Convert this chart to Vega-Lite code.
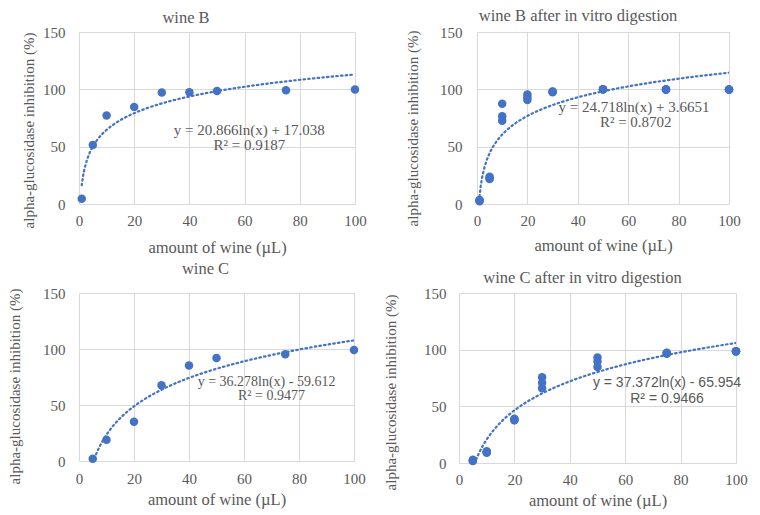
{
  "$schema": "https://vega.github.io/schema/vega-lite/v6.json",
  "background": "white",
  "padding": {"left": 7, "top": 7, "right": 0, "bottom": 0},
  "datasets": {
    "points": [
      {"panel": "B", "x": 1, "y": 4.6}, {"panel": "B", "x": 5, "y": 51.4}, {"panel": "B", "x": 10, "y": 77.2},
      {"panel": "B", "x": 20, "y": 84.7}, {"panel": "B", "x": 30, "y": 97.2}, {"panel": "B", "x": 40, "y": 97.5},
      {"panel": "B", "x": 50, "y": 98.6}, {"panel": "B", "x": 75, "y": 99.2}, {"panel": "B", "x": 100, "y": 99.8},
      {"panel": "BD", "x": 1, "y": 2.5}, {"panel": "BD", "x": 1, "y": 3.5}, {"panel": "BD", "x": 1, "y": 3},
      {"panel": "BD", "x": 5, "y": 23.8}, {"panel": "BD", "x": 5, "y": 21.7}, {"panel": "BD", "x": 5, "y": 22.5},
      {"panel": "BD", "x": 10, "y": 87.5}, {"panel": "BD", "x": 10, "y": 76.5}, {"panel": "BD", "x": 10, "y": 72.5},
      {"panel": "BD", "x": 20, "y": 95.5}, {"panel": "BD", "x": 20, "y": 93}, {"panel": "BD", "x": 20, "y": 90.8},
      {"panel": "BD", "x": 30, "y": 98}, {"panel": "BD", "x": 30, "y": 97.5}, {"panel": "BD", "x": 30, "y": 98.2},
      {"panel": "BD", "x": 50, "y": 100}, {"panel": "BD", "x": 50, "y": 99.8}, {"panel": "BD", "x": 50, "y": 100},
      {"panel": "BD", "x": 75, "y": 99.8}, {"panel": "BD", "x": 75, "y": 100}, {"panel": "BD", "x": 75, "y": 99.7},
      {"panel": "BD", "x": 100, "y": 99.8}, {"panel": "BD", "x": 100, "y": 99.9}, {"panel": "BD", "x": 100, "y": 99.7},
      {"panel": "C", "x": 5, "y": 2}, {"panel": "C", "x": 10, "y": 18.9}, {"panel": "C", "x": 20, "y": 35.1},
      {"panel": "C", "x": 30, "y": 67.6}, {"panel": "C", "x": 40, "y": 85.3}, {"panel": "C", "x": 50, "y": 92},
      {"panel": "C", "x": 75, "y": 95.4}, {"panel": "C", "x": 100, "y": 99.2},
      {"panel": "CD", "x": 5, "y": 2}, {"panel": "CD", "x": 5, "y": 2.8}, {"panel": "CD", "x": 5, "y": 1.8},
      {"panel": "CD", "x": 10, "y": 9.1}, {"panel": "CD", "x": 10, "y": 10.4}, {"panel": "CD", "x": 10, "y": 9.5},
      {"panel": "CD", "x": 20, "y": 37.8}, {"panel": "CD", "x": 20, "y": 39}, {"panel": "CD", "x": 20, "y": 38},
      {"panel": "CD", "x": 30, "y": 75.6}, {"panel": "CD", "x": 30, "y": 70.7}, {"panel": "CD", "x": 30, "y": 65.9},
      {"panel": "CD", "x": 50, "y": 93}, {"panel": "CD", "x": 50, "y": 89.6}, {"panel": "CD", "x": 50, "y": 84.8},
      {"panel": "CD", "x": 75, "y": 97}, {"panel": "CD", "x": 75, "y": 96.5}, {"panel": "CD", "x": 75, "y": 97.2},
      {"panel": "CD", "x": 100, "y": 98.5}, {"panel": "CD", "x": 100, "y": 98.3}, {"panel": "CD", "x": 100, "y": 98.6}
    ],
    "labels": [
      {"panel": "B", "x": 61.7, "y": 64.4, "text": "y = 20.866ln(x)  + 17.038"},
      {"panel": "B", "x": 61.7, "y": 51.4, "text": "R² = 0.9187"},
      {"panel": "BD", "x": 62.3, "y": 85, "text": "y = 24.718ln(x)  + 3.6651"},
      {"panel": "BD", "x": 63, "y": 71.9, "text": "R² = 0.8702"},
      {"panel": "C", "x": 68.2, "y": 70.6, "text": "y = 36.278ln(x)  - 59.612"},
      {"panel": "C", "x": 70, "y": 57.8, "text": "R² = 0.9477"},
      {"panel": "CD", "x": 75.1, "y": 70.4, "text": "y = 37.372ln(x) - 65.954"},
      {"panel": "CD", "x": 75.1, "y": 56.7, "text": "R² = 0.9466"}
    ]
  },
  "vconcat": [
    {
      "hconcat": [
        {
          "width": 276, "height": 172,
          "title": {"text": "wine B", "offset": -1, "dx": -31},
          "layer": [
            {
              "data": {"name": "points"},
              "transform": [{"filter": "datum.panel == 'B'"}],
              "mark": {"type": "circle", "size": 72, "color": "#4472c4", "opacity": 1},
              "encoding": {
                "x": {"field": "x", "type": "quantitative", "scale": {"domain": [0, 100], "nice": false},
                      "title": "amount of wine (µL)",
                      "axis": {"values": [0, 20, 40, 60, 80, 100], "labelPadding": 9, "titlePadding": 11}},
                "y": {"field": "y", "type": "quantitative", "scale": {"domain": [0, 150], "nice": false},
                      "title": "alpha-glucosidase inhibition (%)",
                      "axis": {"values": [0, 50, 100, 150], "labelPadding": 14, "titlePadding": 6, "titleY": 98}}
              }
            },
            {
              "data": {"name": "points"},
              "transform": [{"filter": "datum.panel == 'B'"}, {"regression": "y", "on": "x", "method": "log", "extent": [1, 100]}],
              "mark": {"type": "line", "color": "#4472c4", "strokeWidth": 2.2, "strokeDash": [1.5, 3.2], "strokeCap": "round", "clip": true},
              "encoding": {"x": {"field": "x", "type": "quantitative"}, "y": {"field": "y", "type": "quantitative"}}
            },
            {
              "data": {"name": "labels"},
              "transform": [{"filter": "datum.panel == 'B'"}],
              "mark": {"type": "text", "fontSize": 15, "color": "#595959", "baseline": "middle", "align": "center"},
              "encoding": {"x": {"field": "x", "type": "quantitative"}, "y": {"field": "y", "type": "quantitative"}, "text": {"field": "text"}}
            }
          ]
        },
        {
          "width": 252, "height": 172,
          "title": {"text": "wine B after in vitro digestion", "offset": 1, "dx": -25},
          "layer": [
            {
              "data": {"name": "points"},
              "transform": [{"filter": "datum.panel == 'BD'"}],
              "mark": {"type": "circle", "size": 72, "color": "#4472c4", "opacity": 1},
              "encoding": {
                "x": {"field": "x", "type": "quantitative", "scale": {"domain": [0, 100], "nice": false},
                      "title": "amount of wine (µL)",
                      "axis": {"values": [0, 20, 40, 60, 80, 100], "labelPadding": 9, "titlePadding": 9}},
                "y": {"field": "y", "type": "quantitative", "scale": {"domain": [0, 150], "nice": false},
                      "title": "alpha-glucosidase inhibition (%)",
                      "axis": {"values": [0, 50, 100, 150], "labelPadding": 15, "titlePadding": 19, "titleY": 96}}
              }
            },
            {
              "data": {"name": "points"},
              "transform": [{"filter": "datum.panel == 'BD'"}, {"regression": "y", "on": "x", "method": "log", "extent": [1, 100]}],
              "mark": {"type": "line", "color": "#4472c4", "strokeWidth": 2.2, "strokeDash": [1.5, 3.2], "strokeCap": "round", "clip": true},
              "encoding": {"x": {"field": "x", "type": "quantitative"}, "y": {"field": "y", "type": "quantitative"}}
            },
            {
              "data": {"name": "labels"},
              "transform": [{"filter": "datum.panel == 'BD'"}],
              "mark": {"type": "text", "fontSize": 15, "color": "#595959", "baseline": "middle", "align": "center"},
              "encoding": {"x": {"field": "x", "type": "quantitative"}, "y": {"field": "y", "type": "quantitative"}, "text": {"field": "text"}}
            }
          ]
        }
      ],
      "spacing": 38
    },
    {
      "hconcat": [
        {
          "width": 275, "height": 168,
          "title": {"text": "wine C", "offset": 9, "dx": -11},
          "layer": [
            {
              "data": {"name": "points"},
              "transform": [{"filter": "datum.panel == 'C'"}],
              "mark": {"type": "circle", "size": 72, "color": "#4472c4", "opacity": 1},
              "encoding": {
                "x": {"field": "x", "type": "quantitative", "scale": {"domain": [0, 100], "nice": false},
                      "title": "amount of wine (µL)",
                      "axis": {"values": [0, 20, 40, 60, 80, 100], "labelPadding": 10, "titlePadding": 5}},
                "y": {"field": "y", "type": "quantitative", "scale": {"domain": [0, 150], "nice": false},
                      "title": "alpha-glucosidase inhibition (%)",
                      "axis": {"values": [0, 50, 100, 150], "labelPadding": 14, "titlePadding": 20, "titleY": 93}}
              }
            },
            {
              "data": {"name": "points"},
              "transform": [{"filter": "datum.panel == 'C'"}, {"regression": "y", "on": "x", "method": "log", "extent": [5, 100]}],
              "mark": {"type": "line", "color": "#4472c4", "strokeWidth": 2.2, "strokeDash": [1.5, 3.2], "strokeCap": "round", "clip": true},
              "encoding": {"x": {"field": "x", "type": "quantitative"}, "y": {"field": "y", "type": "quantitative"}}
            },
            {
              "data": {"name": "labels"},
              "transform": [{"filter": "datum.panel == 'C'"}],
              "mark": {"type": "text", "fontSize": 14, "color": "#595959", "baseline": "middle", "align": "center"},
              "encoding": {"x": {"field": "x", "type": "quantitative"}, "y": {"field": "y", "type": "quantitative"}, "text": {"field": "text"}}
            }
          ]
        },
        {
          "width": 277, "height": 170,
          "title": {"text": "wine C after in vitro digestion", "offset": 0, "dx": -15},
          "layer": [
            {
              "data": {"name": "points"},
              "transform": [{"filter": "datum.panel == 'CD'"}],
              "mark": {"type": "circle", "size": 72, "color": "#4472c4", "opacity": 1},
              "encoding": {
                "x": {"field": "x", "type": "quantitative", "scale": {"domain": [0, 100], "nice": false},
                      "title": "amount of wine (µL)",
                      "axis": {"values": [0, 20, 40, 60, 80, 100], "labelPadding": 9, "titlePadding": 5}},
                "y": {"field": "y", "type": "quantitative", "scale": {"domain": [0, 150], "nice": false},
                      "title": "alpha-glucosidase inhibition (%)",
                      "axis": {"values": [0, 50, 100, 150], "labelPadding": 13, "titlePadding": 25, "titleY": 99}}
              }
            },
            {
              "data": {"name": "points"},
              "transform": [{"filter": "datum.panel == 'CD'"}, {"regression": "y", "on": "x", "method": "log", "extent": [5, 100]}],
              "mark": {"type": "line", "color": "#4472c4", "strokeWidth": 2.2, "strokeDash": [1.5, 3.2], "strokeCap": "round", "clip": true},
              "encoding": {"x": {"field": "x", "type": "quantitative"}, "y": {"field": "y", "type": "quantitative"}}
            },
            {
              "data": {"name": "labels"},
              "transform": [{"filter": "datum.panel == 'CD'"}],
              "mark": {"type": "text", "fontSize": 14, "font": "Liberation Sans", "color": "#595959", "baseline": "middle", "align": "center"},
              "encoding": {"x": {"field": "x", "type": "quantitative"}, "y": {"field": "y", "type": "quantitative"}, "text": {"field": "text"}}
            }
          ]
        }
      ],
      "spacing": 17
    }
  ],
  "spacing": 4,
  "config": {
    "font": "Liberation Serif",
    "view": {"stroke": null},
    "axis": {
      "domain": false, "ticks": false, "grid": true, "gridColor": "#d9d9d9", "gridWidth": 1,
      "labelFlush": false, "labelOverlap": false,
      "labelColor": "#595959", "titleColor": "#595959",
      "labelFont": "Liberation Serif", "titleFont": "Liberation Serif",
      "labelFontSize": 15, "titleFontSize": 16.5, "titleFontWeight": "normal"
    },
    "axisY": {"titleFontSize": 15},
    "title": {"font": "Liberation Serif", "fontSize": 16.5, "fontWeight": "normal", "color": "#595959", "anchor": "middle"}
  }
}
